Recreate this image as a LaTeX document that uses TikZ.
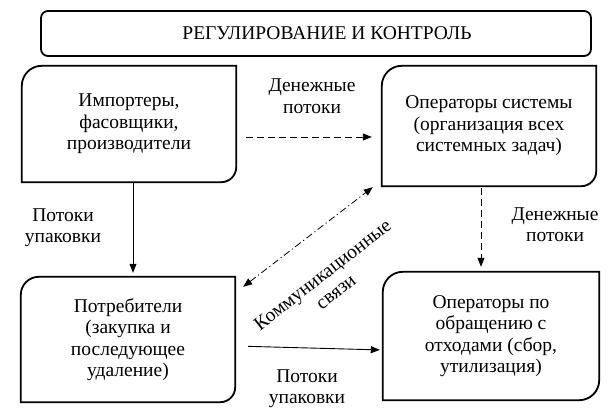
\documentclass[tikz,border=0pt]{standalone}
\usepackage{fontspec}
\setmainfont{Liberation Serif}
\usepackage{tikz}
\usetikzlibrary{arrows.meta,positioning,calc}
\tikzset{
  blk/.style={rectangle, minimum width=214pt, align=center, inner sep=0pt},
  head/.style={draw, rectangle, rounded corners=7pt, line width=1.8pt, minimum width=550pt, minimum height=45pt},
  brd/.style={line width=1.8pt},
  arr/.style={-{Triangle[length=9pt, width=7pt]}, line width=0.9pt},
  darr/.style={arr, dash pattern=on 7pt off 4pt},
  ddarr/.style={{Triangle[length=9pt, width=7pt]}-{Triangle[length=9pt, width=7pt]}, line width=0.8pt, dash pattern=on 7pt off 3pt on 1.2pt off 3pt},
  lbl/.style={align=center, inner sep=0pt}
}

\begin{document}
\begin{tikzpicture}[x=1pt, y=1pt, font=\fontsize{19.5}{21.5}\selectfont]
\useasboundingbox (0,0) rectangle (607,412);
\node[head] (reg) at (316,378.5) {\hspace*{22pt}РЕГУЛИРОВАНИЕ И КОНТРОЛЬ};
\node[blk, minimum height=116pt] (imp) at (129,288) {Импортеры,\\фасовщики,\\производители};
\node[blk, minimum height=120pt] (oper) at (489,286) {Операторы системы\\(организация всех\\системных задач)};
\node[blk, minimum height=125pt] (potr) at (128,72.5) {Потребители\\(закупка и\\последующее\\удаление)};
\node[blk, minimum width=216pt, minimum height=128pt] (othod) at (491,76) {Операторы по\\обращению с\\отходами (сбор,\\утилизация)};
% rounded top-left and bottom-right corners only
\foreach \n/\r/\s in {imp/20/15, oper/20/15, potr/18/15, othod/20/20}
  \draw[brd] ([yshift=-\r pt]\n.north west) arc[start angle=180, end angle=90, radius=\r pt]
    -- (\n.north east) -- ([yshift=\s pt]\n.south east) arc[start angle=0, end angle=-90, radius=\s pt]
    -- (\n.south west) -- cycle;

\draw[darr, shorten <=10pt, shorten >=10pt] ([yshift=-13pt]imp.east) -- ([yshift=-13pt]imp.east -| oper.west);
\draw[arr, shorten >=4pt] ([xshift=4pt]imp.south) -- ([xshift=5pt]potr.north);
\draw[darr, shorten <=2pt, shorten >=5pt] ([xshift=-8pt]oper.south) -- ([xshift=-8pt]oper.south |- othod.north);
\draw[arr, shorten <=13pt, shorten >=3pt] ([yshift=-6.5pt]potr.east) -- ([yshift=-14pt]othod.west);
\draw[ddarr] ([shift={(8pt,-10pt)}]potr.north east) -- ([shift={(-9pt,-1pt)}]oper.south west);

\node[lbl] (den1) at (312,316) {Денежные\\потоки};
\node[lbl] (pot1) at (63,184.5) {Потоки\\упаковки};
\node[lbl] (den2) at (555,187.5) {Денежные\\потоки};
\node[lbl] (pot2) at (307,23.5) {Потоки\\упаковки};
\node[lbl, rotate=38] (komm) at (329,129) {Коммуникационные\\связи};
\end{tikzpicture}
\end{document}
